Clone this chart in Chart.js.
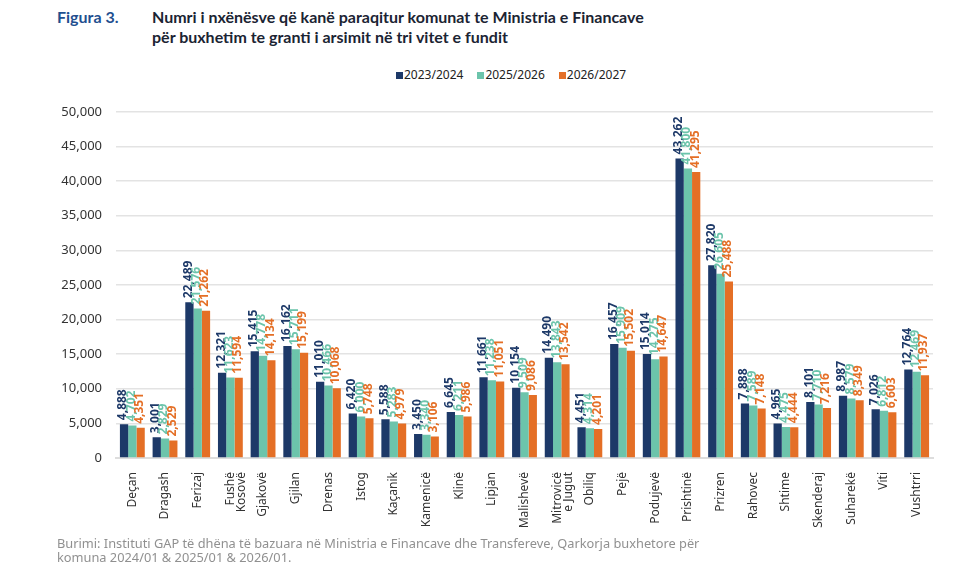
<!DOCTYPE html>
<html>
<head>
<meta charset="utf-8">
<script src="https://cdn.jsdelivr.net/npm/chart.js@4.4.1/dist/chart.umd.min.js"></script>
<style>
  body { margin: 0; background: #fff; width: 980px; height: 575px; overflow: hidden; position: relative; font-family: "Noto Sans", sans-serif; }
  .fig { position: absolute; left: 57px; top: 7px; font-family: Lato, sans-serif; font-size: 16px; font-weight: 700; color: #1f4f8f; }
  .title { position: absolute; left: 152px; top: 7px; font-family: Lato, sans-serif; font-size: 16px; font-weight: 700; color: #1b2433; line-height: 20px; }
  .legend { position: absolute; left: 396px; top: 66px; font-size: 12px; color: #222; white-space: nowrap; }
  .legend span.box { display: inline-block; width: 7px; height: 7px; margin-right: 1px; vertical-align: 0px; }
  .legend span.item { margin-right: 14px; }
  .src { position: absolute; left: 57px; top: 536px; font-size: 12.8px; color: #909090; line-height: 14px; }
  #wrap { position: absolute; left: 0; top: 90px; width: 950px; height: 445px; }
</style>
</head>
<body>
<div class="fig">Figura 3.</div>
<div class="title">Numri i nxënësve që kanë paraqitur komunat te Ministria e Financave<br>për buxhetim te granti i arsimit në tri vitet e fundit</div>
<div class="legend" id="legend"></div>
<div id="wrap"><canvas id="chart"></canvas></div>
<div class="src">Burimi: Instituti GAP të dhëna të bazuara në Ministria e Financave dhe Transfereve, Qarkorja buxhetore për<br>komuna 2024/01 &amp; 2025/01 &amp; 2026/01.</div>
<script>
// komunat dhe numri i nxenesve per vit
const komunat = ["Deçan", "Dragash", "Ferizaj", ["Fushë", "Kosovë"], "Gjakovë", "Gjilan", "Drenas", "Istog",
  "Kaçanik", "Kamenicë", "Klinë", "Lipjan", "Malishevë", ["Mitrovicë", "e Jugut"], "Obiliq", "Pejë",
  "Podujevë", "Prishtinë", "Prizren", "Rahovec", "Shtime", "Skenderaj", "Suharekë", "Viti", "Vushtrri"];

const viti2023 = [4888, 3001, 22489, 12321, 15415, 16162, 11010, 6420, 5588, 3450, 6645, 11661, 10154,
  14490, 4451, 16457, 15014, 43262, 27820, 7888, 4965, 8101, 8987, 7026, 12764];
const viti2025 = [4702, 2829, 21576, 11623, 14778, 15711, 10466, 6000, 5283, 3340, 6211, 11238, 9509,
  13843, 4314, 15909, 14275, 41800, 26605, 7589, 4475, 7710, 8579, 6812, 12469];
const viti2026 = [4351, 2529, 21262, 11594, 14134, 15199, 10068, 5748, 4979, 3106, 5986, 11051, 9086,
  13542, 4201, 15502, 14647, 41295, 25488, 7148, 4444, 7216, 8349, 6603, 11937];

const seriaEmrat = ["2023/2024", "2025/2026", "2026/2027"];
const ngjyrat = ["#1d3968", "#6cc4ab", "#e46f26"];

const fmt = v => v.toLocaleString('en-US');

// etiketat vertikale mbi shtylla
const etiketat = {
  id: 'etiketat',
  afterDatasetsDraw(chart) {
    const ctx = chart.ctx;
    chart.data.datasets.forEach((ds, i) => {
      chart.getDatasetMeta(i).data.forEach((bar, j) => {
        ctx.save();
        ctx.translate(bar.x - 1, bar.y - 4);
        ctx.rotate(-Math.PI / 2);
        ctx.font = '700 12px "Noto Sans"';
        ctx.fillStyle = ds.backgroundColor;
        ctx.textAlign = 'left';
        ctx.textBaseline = 'middle';
        ctx.fillText(fmt(ds.data[j]), 0, 0);
        ctx.restore();
      });
    });
  }
};

const datasets = [viti2023, viti2025, viti2026].map((d, i) => ({
  label: seriaEmrat[i],
  data: d,
  backgroundColor: ngjyrat[i],
  categoryPercentage: 0.76,
  barPercentage: 1.0
}));

document.getElementById('legend').innerHTML = seriaEmrat.map((s, i) =>
  '<span class="item"><span class="box" style="background:' + ngjyrat[i] + '"></span>' + s + '</span>').join('');

new Chart(document.getElementById('chart'), {
  type: 'bar',
  data: { labels: komunat, datasets: datasets },
  options: {
    responsive: true,
    maintainAspectRatio: false,
    animation: false,
    layout: { padding: { top: 13, right: 17, left: 0, bottom: 0 } },
    plugins: { legend: { display: false }, tooltip: { enabled: false } },
    scales: {
      x: {
        grid: { display: false },
        border: { color: '#dddddd', width: 2 },
        ticks: { autoSkip: false, minRotation: 90, maxRotation: 90, padding: 6, color: '#333', font: { family: 'Noto Sans', size: 12, lineHeight: 0.95 } },
        afterFit: s => { s.height = 77; }
      },
      y: {
        min: 0,
        max: 50000,
        ticks: { stepSize: 5000, padding: 14, color: '#333', font: { family: 'Noto Sans', size: 13 }, callback: v => fmt(v) },
        grid: { color: '#e3e3e3', lineWidth: 1.5, drawTicks: false },
        border: { display: false },
        afterFit: s => { s.width = 116; }
      }
    }
  },
  plugins: [etiketat]
});
</script>
</body>
</html>
